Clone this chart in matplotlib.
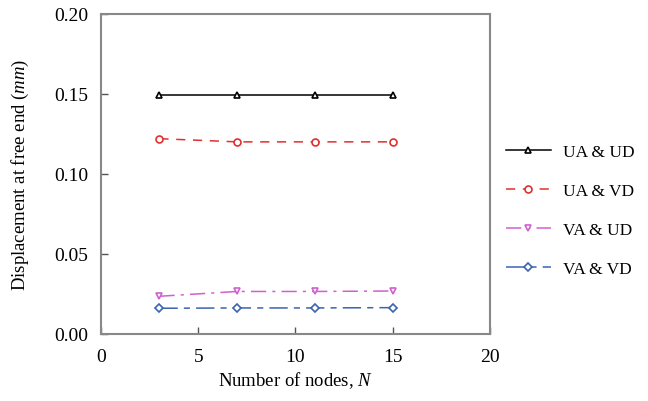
import matplotlib
matplotlib.use("Agg")
import matplotlib.pyplot as plt

plt.rcParams['font.family'] = ['Liberation Serif', 'DejaVu Serif']
plt.rcParams['mathtext.fontset'] = 'custom'
plt.rcParams['mathtext.rm'] = 'Liberation Serif'
plt.rcParams['mathtext.it'] = 'Liberation Serif:italic'

# number of nodes and tip displacement for each approximation pair
nodes = [3, 7, 11, 15]
ua_ud = [0.149, 0.149, 0.149, 0.149]
ua_vd = [0.122, 0.120, 0.120, 0.120]
va_ud = [0.0235, 0.0265, 0.0265, 0.0268]
va_vd = [0.0160, 0.0162, 0.0162, 0.0164]
labels = ["UA & UD", "UA & VD", "VA & UD", "VA & VD"]

series = [
    (ua_ud, "black", "-", "^"),
    (ua_vd, "#e03030", (0, (6, 5)), "o"),
    (va_ud, "#d060d0", (0, (10, 4, 2, 4)), "v"),
    (va_vd, "#3a64b0", (0, (12, 4, 4, 4)), "D"),
]

fig = plt.figure(figsize=(6.48, 4.02), dpi=100)
ax = fig.add_axes([0.156, 0.167, 0.600, 0.796])

for (vals, color, ls, mk), lab in zip(series, labels):
    ax.plot(nodes, vals, color=color, linestyle=ls, linewidth=1.1,
            marker=mk, markersize=5 if mk != "D" else 4,
            markerfacecolor="white", markeredgecolor=color,
            markeredgewidth=1.2, label=lab)

ax.set_xlim(0, 20)
ax.set_ylim(0, 0.20)
ax.set_xticks([0, 5, 10, 15, 20])
ax.set_yticks([0.00, 0.05, 0.10, 0.15, 0.20])
ax.set_yticklabels(["0.00", "0.05", "0.10", "0.15", "0.20"])
ax.tick_params(direction="in", length=5, width=1, color="#555555",
               labelsize=14)
ax.tick_params(axis="x", pad=10)
ax.tick_params(axis="y", pad=9)
for sp in ax.spines.values():
    sp.set_color("#888888")
    sp.set_linewidth(1.5)

ax.set_xlabel("Number of nodes, $N$", fontsize=13.5, labelpad=3)
ax.set_ylabel("Displacement at free end ($mm$)", fontsize=13.5, labelpad=17)

ax.legend(loc="center left", bbox_to_anchor=(1.0, 0.385), frameon=False,
          fontsize=12.5, handlelength=2.6, labelspacing=1.32,
          handletextpad=0.7)

fig.savefig("out.png", dpi=100)
